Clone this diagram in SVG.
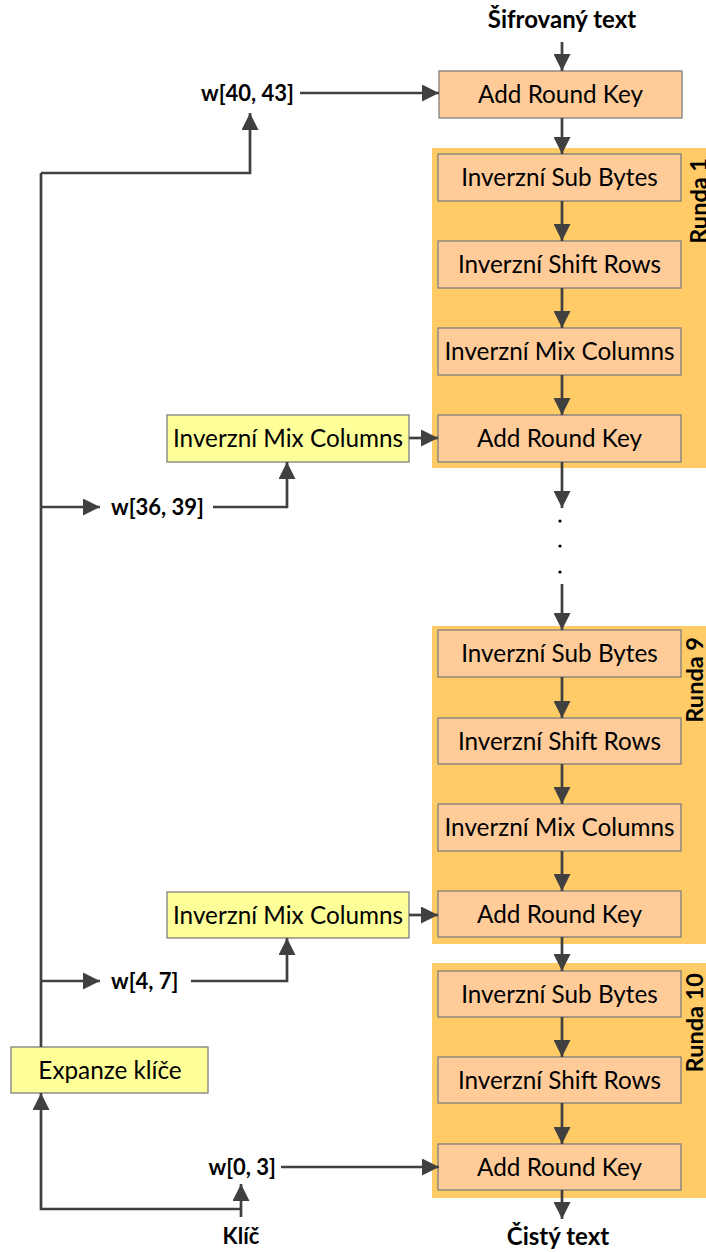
<svg xmlns="http://www.w3.org/2000/svg" width="706" height="1252" viewBox="0 0 706 1252">
<defs>
<marker id="ah" markerUnits="userSpaceOnUse" markerWidth="17" markerHeight="17" refX="17" refY="8.5" orient="auto">
<path d="M0,0 L17,8.5 L0,17 z" fill="#404040"/>
</marker>
<style>
.panel{fill:#FFCB66;}
.box{fill:#FFCC99;stroke:#7F7F7F;stroke-width:1.3;}
.ybox{fill:#FFFF99;stroke:#7F7F7F;stroke-width:1.3;}
.t{font-family:Lato,"Liberation Sans",sans-serif;font-size:24.3px;fill:#000;text-anchor:middle;}
.b{font-family:Lato,"Liberation Sans",sans-serif;font-size:22px;font-weight:bold;fill:#000;}
.bb{font-family:Lato,"Liberation Sans",sans-serif;font-size:24px;font-weight:bold;fill:#000;text-anchor:middle;}
.r{font-family:Lato,"Liberation Sans",sans-serif;font-size:23.5px;font-weight:bold;fill:#000;text-anchor:end;}
.c{fill:none;stroke:#404040;stroke-width:2.7;}
.a{marker-end:url(#ah);}
</style>
</defs>
<rect width="706" height="1252" fill="#fff"/>

<g id="round1">
<rect class="panel" x="432" y="148" width="276" height="320"/>
<text class="r" transform="translate(707,158) rotate(-90)">Runda 1</text>
</g>
<g id="round9">
<rect class="panel" x="432" y="626" width="276" height="318"/>
<text class="r" transform="translate(702.5,637) rotate(-90)">Runda 9</text>
</g>
<g id="round10">
<rect class="panel" x="432" y="963" width="276" height="235"/>
<text class="r" transform="translate(702.5,973) rotate(-90)">Runda 10</text>
</g>

<g id="ark0"><rect class="box" x="439" y="71" width="243" height="47"/><text class="t" x="560.5" y="103">Add Round Key</text></g>
<g id="r1sb"><rect class="box" x="438" y="154" width="243" height="47"/><text class="t" x="559.5" y="186">Inverzní Sub Bytes</text></g>
<g id="r1sr"><rect class="box" x="438" y="241" width="243" height="47"/><text class="t" x="559.5" y="273">Inverzní Shift Rows</text></g>
<g id="r1mc"><rect class="box" x="438" y="328" width="243" height="47"/><text class="t" x="559.5" y="360">Inverzní Mix Columns</text></g>
<g id="r1ark"><rect class="box" x="438" y="415" width="243" height="47"/><text class="t" x="559.5" y="447">Add Round Key</text></g>

<g id="r9sb"><rect class="box" x="438" y="630" width="243" height="47"/><text class="t" x="559.5" y="662">Inverzní Sub Bytes</text></g>
<g id="r9sr"><rect class="box" x="438" y="718" width="243" height="46"/><text class="t" x="559.5" y="749.5">Inverzní Shift Rows</text></g>
<g id="r9mc"><rect class="box" x="438" y="804" width="243" height="47"/><text class="t" x="559.5" y="836">Inverzní Mix Columns</text></g>
<g id="r9ark"><rect class="box" x="438" y="891" width="243" height="46"/><text class="t" x="559.5" y="922.5">Add Round Key</text></g>

<g id="r10sb"><rect class="box" x="438" y="971" width="243" height="46"/><text class="t" x="559.5" y="1002.5">Inverzní Sub Bytes</text></g>
<g id="r10sr"><rect class="box" x="438" y="1057" width="243" height="46"/><text class="t" x="559.5" y="1088.5">Inverzní Shift Rows</text></g>
<g id="r10ark"><rect class="box" x="438" y="1144" width="243" height="46"/><text class="t" x="559.5" y="1175.5">Add Round Key</text></g>

<g id="imc1"><rect class="ybox" x="167" y="415" width="242" height="47"/><text class="t" x="288" y="447">Inverzní Mix Columns</text></g>
<g id="imc2"><rect class="ybox" x="167" y="892" width="242" height="46"/><text class="t" x="288" y="923.5">Inverzní Mix Columns</text></g>
<g id="exp"><rect class="ybox" x="11" y="1047" width="197" height="46"/><text class="t" x="110" y="1078.5">Expanze klíče</text></g>

<g id="labels">
<text class="bb" x="562" y="28">Šifrovaný text</text>
<text class="bb" x="558" y="1245">Čistý text</text>
<text class="b" x="241" y="1244" text-anchor="middle">Klíč</text>
<text class="b" x="294" y="101" text-anchor="end">w[40, 43]</text>
<text class="b" x="111" y="515">w[36, 39]</text>
<text class="b" x="111" y="989">w[4, 7]</text>
<text class="b" x="276" y="1175" text-anchor="end">w[0, 3]</text>
</g>

<g id="connectors">
<line class="c a" x1="562" y1="42" x2="562" y2="71"/>
<line class="c a" x1="562" y1="118" x2="562" y2="154"/>
<line class="c a" x1="562" y1="201" x2="562" y2="241"/>
<line class="c a" x1="562" y1="288" x2="562" y2="328"/>
<line class="c a" x1="562" y1="375" x2="562" y2="415"/>
<line class="c a" x1="562" y1="462" x2="562" y2="508"/>
<circle cx="560" cy="521" r="1.6" fill="#000"/>
<circle cx="560" cy="546" r="1.6" fill="#000"/>
<circle cx="560" cy="572" r="1.6" fill="#000"/>
<line class="c a" x1="562" y1="584" x2="562" y2="630"/>
<line class="c a" x1="562" y1="677" x2="562" y2="718"/>
<line class="c a" x1="562" y1="764" x2="562" y2="804"/>
<line class="c a" x1="562" y1="851" x2="562" y2="891"/>
<line class="c a" x1="562" y1="937" x2="562" y2="971"/>
<line class="c a" x1="562" y1="1017" x2="562" y2="1057"/>
<line class="c a" x1="562" y1="1103" x2="562" y2="1144"/>
<line class="c a" x1="562" y1="1190" x2="562" y2="1219"/>

<polyline class="c" points="41,1047 41,173"/>
<polyline class="c a" points="41,173 250,173 250,113"/>
<line class="c a" x1="300" y1="93" x2="439" y2="93"/>
<line class="c a" x1="41" y1="507" x2="100" y2="507"/>
<polyline class="c a" points="213,507 287,507 287,462"/>
<line class="c a" x1="409" y1="438" x2="438" y2="438"/>
<line class="c a" x1="41" y1="981" x2="100" y2="981"/>
<polyline class="c a" points="191,981 287,981 287,938"/>
<line class="c a" x1="409" y1="915" x2="438" y2="915"/>
<line class="c a" x1="241" y1="1217" x2="241" y2="1184"/>
<polyline class="c a" points="241,1209 41,1209 41,1093"/>
<line class="c a" x1="281" y1="1167" x2="439" y2="1167"/>
</g>
</svg>
